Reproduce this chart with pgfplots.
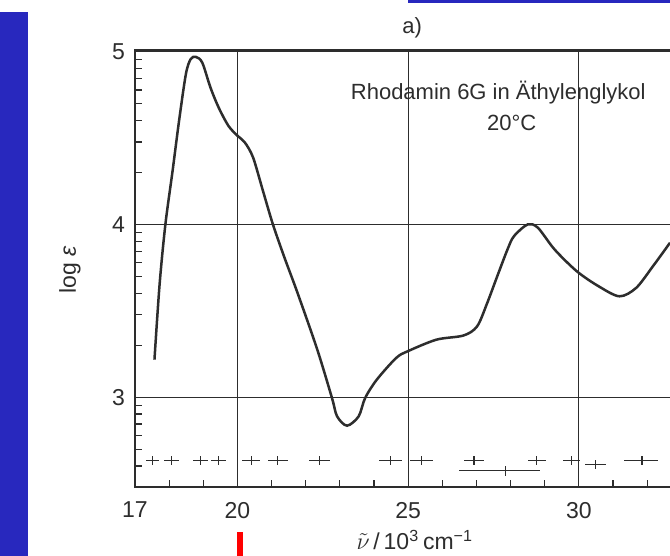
\documentclass[border=0pt]{standalone}
\usepackage{pgfplots}
\pgfplotsset{compat=1.18}
\usepackage{fontspec}
\setmainfont{Liberation Sans}
\definecolor{slideblue}{RGB}{40,40,190}
\definecolor{ink}{RGB}{45,45,45}
\pgfplotstableread{
x y
17.57 3.217
17.72 3.652
17.89 4.000
18.10 4.309
18.29 4.599
18.49 4.870
18.63 4.957
18.78 4.970
18.97 4.937
19.21 4.793
19.45 4.677
19.74 4.570
20.01 4.512
20.22 4.474
20.46 4.387
20.75 4.193
21.04 4.000
21.38 3.807
21.76 3.604
22.34 3.275
22.77 2.995
22.92 2.889
23.21 2.835
23.55 2.889
23.74 2.995
24.08 3.101
24.65 3.227
24.99 3.266
25.83 3.333
26.62 3.357
27.02 3.410
27.31 3.542
27.61 3.700
27.91 3.855
28.10 3.932
28.50 4.000
28.80 3.981
29.29 3.855
29.94 3.729
30.58 3.642
31.19 3.584
31.68 3.633
32.17 3.758
32.67 3.894
}\spectrum
\pgfplotstableread{
x y em ep ey
17.51 2.634 0.20 0.20 0.025
18.06 2.634 0.22 0.22 0.025
18.93 2.634 0.22 0.22 0.025
19.45 2.634 0.22 0.22 0.025
20.40 2.634 0.26 0.26 0.025
21.18 2.634 0.29 0.29 0.025
22.40 2.634 0.30 0.30 0.025
24.48 2.634 0.34 0.34 0.025
25.39 2.634 0.34 0.34 0.025
26.93 2.634 0.28 0.28 0.025
28.77 2.634 0.26 0.26 0.025
29.78 2.634 0.25 0.25 0.025
30.49 2.609 0.32 0.32 0.025
31.85 2.634 0.54 0.47 0.025
27.85 2.574 1.37 1.01 0.029
}\errs
\begin{document}
\begin{tikzpicture}[x=1pt,y=1pt]
\useasboundingbox (-67.5,-34.5) rectangle (267.5,243.5);
\fill[white] (-67.5,-34.5) rectangle (267.5,243.5);
\fill[slideblue] (-67.5,-34.5) rectangle (-53.5,237.5);
\fill[slideblue] (136.5,242) rectangle (267.5,243.5);
\fill[red] (51,-22.5) rectangle (54,-34.5);
\begin{axis}[
  at={(0,0)}, anchor=south west,
  scale only axis, width=267.5pt, height=218.5pt,
  xmin=17, xmax=32.67, ymin=2.48, ymax=5.01,
  axis line style={draw=none},
  xtick={17,20,25,30}, ytick={3,4,5},
  minor xtick={18,19,21,22,23,24,26,27,28,29,31,32},
  minor ytick={2.602,2.699,2.778,2.845,2.903,2.954,3.301,3.477,3.602,3.699,3.778,3.845,3.903,3.954,4.301,4.477,4.602,4.699,4.778,4.845,4.903,4.954},
  xtick pos=bottom, ytick pos=left, tick align=inside,
  major tick length=0pt, minor tick length=3.5pt,
  every tick/.style={ink, line width=0.6pt},
  grid=major,
  major grid style={ink, line width=0.5pt},
  /pgf/number format/assume math mode=true,
  tick label style={font=\fontsize{11.5}{13}\selectfont, text=ink},
  xticklabel style={yshift=-4pt},
  yticklabel style={xshift=-1.5pt},
  clip mode=individual,
]
\addplot[ink, line width=1.25pt, smooth, tension=0.5] table[x=x,y=y] {\spectrum};
\addplot[draw=none, mark=none,
  error bars/.cd, x dir=both, x explicit, y dir=both, y explicit,
  error mark=none, error bar style={draw=ink, solid, line width=0.55pt}]
  table[x=x, y=y, x error minus=em, x error plus=ep, y error=ey] {\errs};
\draw[ink, line width=0.9pt] (rel axis cs:1,1) -- (rel axis cs:0,1) -- (rel axis cs:0,0) -- (rel axis cs:1,0);
\node[font=\fontsize{11}{13}\selectfont, text=ink] at (axis description cs:0.518,1.050) {a)};
\node[font=\fontsize{11}{13}\selectfont, text=ink] at (axis description cs:0.679,0.903) {Rhodamin 6G in Äthylenglykol};
\node[font=\fontsize{11}{13}\selectfont, text=ink] at (axis description cs:0.704,0.833) {20°C};
\node[font=\fontsize{11.5}{13}\selectfont, text=ink, rotate=90] at (axis description cs:-0.1215,0.497) {log \textit{ε}};
\node[font=\fontsize{11.5}{13}\selectfont, text=ink] at (axis description cs:0.523,-0.1213) {$\tilde{\nu}$\,/\,10\textsuperscript{3}\,cm\textsuperscript{−1}};
\end{axis}
\end{tikzpicture}
\end{document}
